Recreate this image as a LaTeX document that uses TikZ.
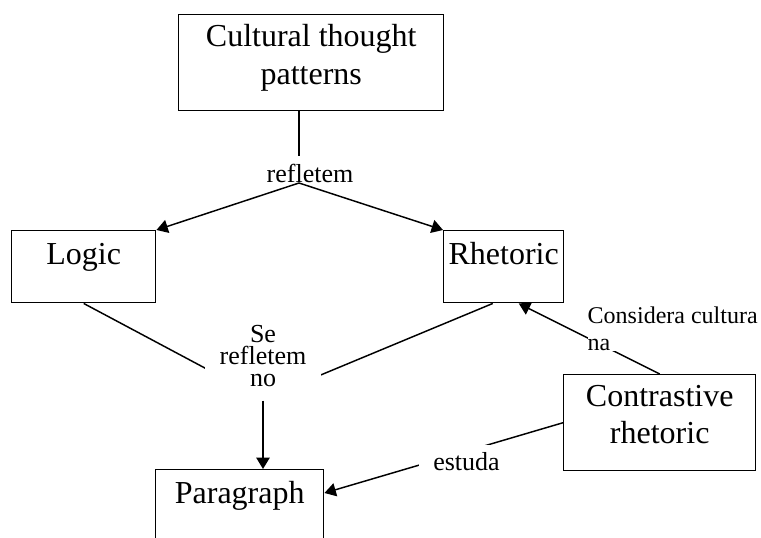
\documentclass[tikz,border=0pt]{standalone}
\usepackage{fontspec}
\setmainfont{Liberation Serif}
\usetikzlibrary{arrows.meta}
\newcommand{\bstrut}{\rule[-12.3pt]{0pt}{12.3pt}}
\tikzset{box/.style={draw, line width=1.1pt, inner sep=0pt, fill=white, align=center, font=\fontsize{24}{28}\selectfont},
onebox/.style={box, text height=25pt, text depth=29pt, minimum height=54pt},
lbl/.style={align=center, font=\fontsize{19.5}{16.5}\selectfont},
arr/.style={line width=1.1pt, -{Triangle[length=8.5pt, width=10pt]}}}

\begin{document}
\begin{tikzpicture}[x=0.75pt, y=-0.75pt, line width=1.1pt]
\useasboundingbox (0,0) rectangle (761,538);
\clip (0,0) rectangle (761,538);
\node[box, anchor=north west, minimum width=198.75pt, minimum height=72pt] (cult) at (178,14) {Cultural thought\\patterns\bstrut};
\node[onebox, anchor=north west, minimum width=108pt] (logic) at (11,230) {Logic};
\node[onebox, anchor=north west, minimum width=90pt] (rhet) at (443,230) {Rhetoric};
\node[onebox, anchor=north west, minimum width=126pt] (para) at (155,469) {Paragraph};
\node[box, anchor=north west, minimum width=144pt, minimum height=72pt] (contr) at (563,374) {Contrastive\\rhetoric\bstrut};
\node[lbl, anchor=base, inner ysep=6pt] (rfl) at (310,183) {refletem};
\coordinate (fork) at (299,183);
\coordinate (meet) at (263,399);
\draw (cult.south -| fork) -- (rfl.north -| fork);
\draw[arr] (fork) -- (logic.north east);
\draw[arr] (fork) -- (rhet.north west);
\draw (logic.south) -- (meet);
\draw ([xshift=-8.25pt]rhet.south) -- (meet);
\node[lbl, fill=white, anchor=north, inner xsep=11pt, inner ysep=10pt] (srn) at (263,311) {Se\\refletem\\no};
\draw[arr] (srn.south) -- (srn.south |- para.north);
\draw[arr] (contr.north) -- ([xshift=11.25pt]rhet.south);
\node[fill=white, anchor=north west, inner sep=0pt, align=left, font=\fontsize{18}{20.25}\selectfont] (cons) at (587,306.6) {Considera cultura\\na};
\draw[arr] (contr.west) -- ([yshift=-18pt]para.north east);
\node[lbl, fill=white, anchor=base, inner xsep=11pt, inner ysep=5pt] (estd) at (466.5,470) {estuda};
\end{tikzpicture}
\end{document}
